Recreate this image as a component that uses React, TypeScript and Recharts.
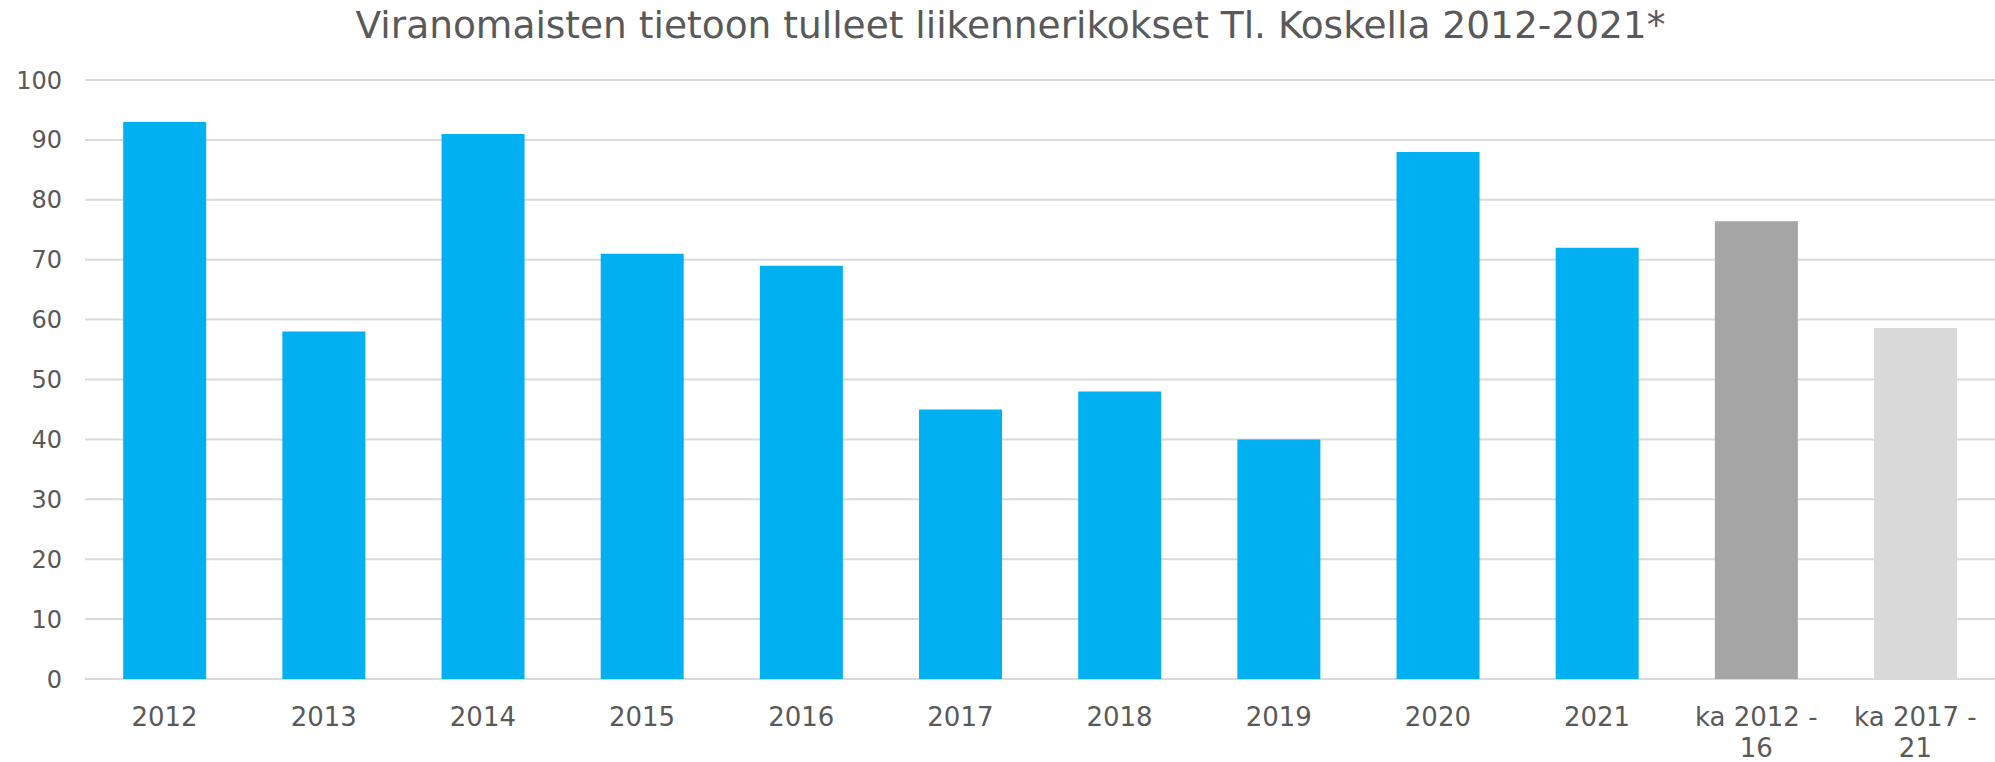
import { BarChart, Bar, XAxis, YAxis, CartesianGrid, Cell } from 'recharts';

const categories = ['2012', '2013', '2014', '2015', '2016', '2017', '2018', '2019', '2020', '2021', 'ka 2012 - 16', 'ka 2017 - 21'];
const accidents = [93, 58, 91, 71, 69, 45, 48, 40, 88, 72, 76.4, 58.6];
const yTicks = [0, 10, 20, 30, 40, 50, 60, 70, 80, 90, 100];
const barColors = ['#00B0F0', '#00B0F0', '#00B0F0', '#00B0F0', '#00B0F0', '#00B0F0', '#00B0F0', '#00B0F0', '#00B0F0', '#00B0F0', '#A5A5A5', '#D9D9D9'];

const title = 'Viranomaisten tietoon tulleet liikennerikokset Tl. Koskella 2012-2021*';

const data = categories.map((name, i) => ({ name, value: accidents[i] }));

const FONT = '"DejaVu Sans", Verdana, sans-serif';
const TEXT = '#595959';

// splits "ka 2012 - 16" into two lines like the original
const CategoryTick = (props: any) => {
  const { x, y, payload } = props;
  const lines = String(payload.value).replace(' - ', ' -\n').split('\n');
  return (
    <text x={x} y={y} textAnchor="middle" fill={TEXT} fontSize={26} fontFamily={FONT}>
      {lines.map((line, i) => (
        <tspan key={i} x={x} dy={i === 0 ? 45 : 31}>
          {line}
        </tspan>
      ))}
    </text>
  );
};

export default function App() {
  return (
    <div style={{ position: 'absolute', left: 0, top: 0, width: 1995, height: 762, background: '#fff' }}>
      <div
        style={{
          position: 'absolute',
          left: 0,
          top: 7,
          width: 2021,
          textAlign: 'center',
          fontFamily: FONT,
          fontSize: 37.5,
          lineHeight: 1,
          color: TEXT,
          whiteSpace: 'nowrap',
        }}
      >
        {title}
      </div>
      <BarChart
        width={1995}
        height={762}
        data={data}
        margin={{ top: 80, right: 0, left: 0, bottom: 0 }}
        barCategoryGap="24%"
      >
        <CartesianGrid vertical={false} stroke="#D9D9D9" strokeWidth={2} />
        <XAxis
          dataKey="name"
          axisLine={false}
          tickLine={false}
          tickSize={0}
          interval={0}
          tick={<CategoryTick />}
          height={83}
        />
        <YAxis
          domain={[0, 100]}
          ticks={yTicks}
          axisLine={false}
          tickLine={false}
          tickSize={0}
          tickMargin={23}
          width={85}
          tick={{ fill: TEXT, fontSize: 24, fontFamily: FONT }}
        />
        <Bar dataKey="value" isAnimationActive={false}>
          {data.map((d, i) => (
            <Cell key={d.name} fill={barColors[i]} />
          ))}
        </Bar>
      </BarChart>
    </div>
  );
}
